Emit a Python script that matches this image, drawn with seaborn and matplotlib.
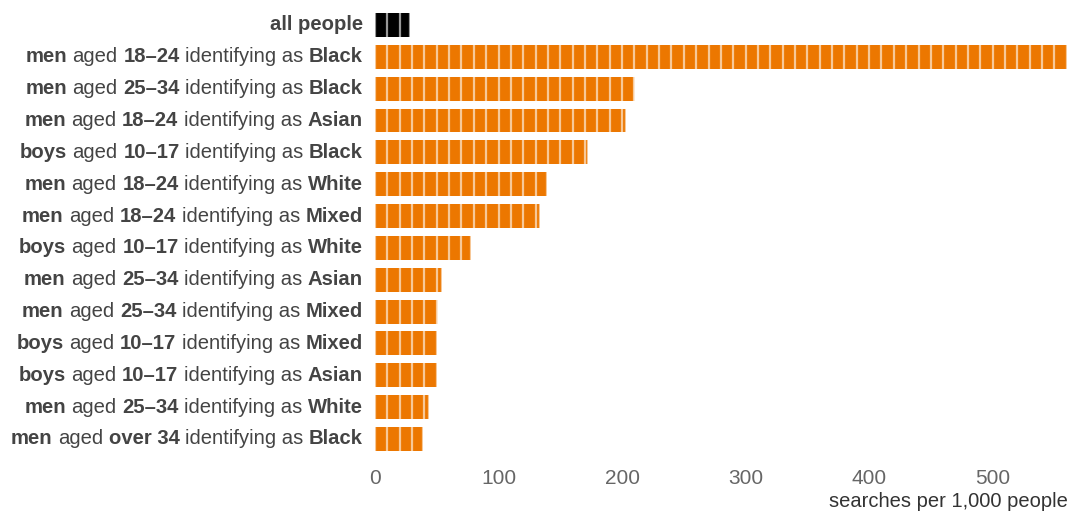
import numpy as np
import pandas as pd
import matplotlib
matplotlib.use("Agg")
import matplotlib.pyplot as plt
import seaborn as sns

# data
groups = ["", "men", "men", "men", "boys", "men", "men", "boys", "men", "men", "boys", "boys", "men", "men"]
ages = ["", "18\u201324", "25\u201334", "18\u201324", "10\u201317", "18\u201324", "18\u201324", "10\u201317",
        "25\u201334", "25\u201334", "10\u201317", "10\u201317", "25\u201334", "over 34"]
ethnicities = ["", "Black", "Black", "Asian", "Black", "White", "Mixed", "White",
               "Asian", "Mixed", "Mixed", "Asian", "White", "Black"]
searches = [28.5, 560, 210.5, 203.5, 172.5, 139, 133.5, 78, 54.5, 51, 50, 50, 44, 38.5]

labels = ["all people"] + [f"{g} aged {a} identifying as {e}" for g, a, e in zip(groups[1:], ages[1:], ethnicities[1:])]
df = pd.DataFrame({"label": labels, "searches": searches})

ORANGE = "#ec7700"
palette = {lab: ("#000000" if i == 0 else ORANGE) for i, lab in enumerate(labels)}

sns.set_style("white")
plt.rcParams["font.family"] = ["Liberation Sans", "DejaVu Sans"]

fig = plt.figure(figsize=(10.69, 5.13), dpi=100)
ax = fig.add_axes([375 / 1069, 1 - 460 / 513, 1 - 376 / 1069, (460 - 9) / 513])

sns.barplot(data=df, y="label", x="searches", hue="label", palette=palette, legend=False,
            order=labels, orient="h", width=0.75, saturation=1, linewidth=0, ax=ax)

# block separators every 10 searches
for i, v in enumerate(searches):
    edges = list(np.arange(0, v, 10)) + [v]
    ax.vlines(edges, i - 0.375, i + 0.375, color="white", alpha=0.6, lw=1.6, zorder=3)

ax.set_xlim(0, 561)
ax.set_ylim(13.66, -0.5)
sns.despine(ax=ax, left=True, bottom=True, top=True, right=True)

ax.set_xticks([0, 100, 200, 300, 400, 500])
ax.tick_params(axis="x", length=4.3, width=1.2, color="#e4e4e4", pad=2.5, labelsize=15, labelcolor="#666666")
ax.set_yticks([])
ax.set_ylabel("")
ax.set_xlabel("")
fig.text(1068 / 1069, 1 - 507 / 513, "searches per 1,000 people", ha="right", va="baseline",
         fontsize=14.5, color="#333333")

# y labels with mixed weights, chained right to left
fs = 14.6
gap = 5.6
for i in range(len(labels)):
    if i == 0:
        pieces = [("all people", "bold")]
    else:
        pieces = [(groups[i], "bold"), ("aged", "normal"), (ages[i], "bold"),
                  ("identifying as", "normal"), (ethnicities[i], "bold")]
    prev = None
    for text, weight in reversed(pieces):
        if prev is None:
            prev = ax.annotate(text, xy=(0, i), xycoords=("axes fraction", "data"),
                               xytext=(-12, 0), textcoords="offset pixels",
                               ha="right", va="center", fontsize=fs, fontweight=weight,
                               color="#444444", annotation_clip=False)
        else:
            prev = ax.annotate(text, xy=(0, 0), xycoords=prev,
                               xytext=(-gap, 0), textcoords="offset pixels",
                               ha="right", va="bottom", fontsize=fs, fontweight=weight,
                               color="#444444", annotation_clip=False)

fig.savefig("out.png", dpi=100, facecolor="white")
